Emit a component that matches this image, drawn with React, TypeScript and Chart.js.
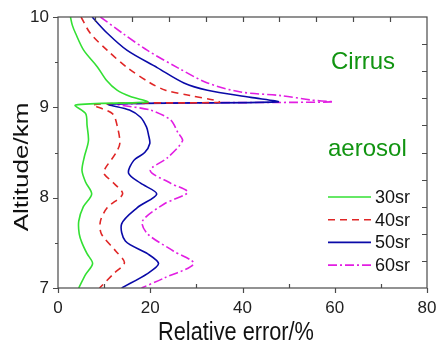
import React, { useEffect, useRef } from "react";
import { Chart, registerables } from "chart.js";
Chart.register(...registerables);

const FONT = "'Liberation Sans', Arial, Helvetica, sans-serif";

const seriesLabels = ["30sr", "40sr", "50sr", "60sr"];
const seriesColors = ["#33e033", "#e02626", "#0a0aa8", "#e21ee2"];
const seriesDashes: number[][] = [[], [7, 5], [], [9, 3, 2, 3]];

const alt30 = [10, 9.91, 9.82, 9.63, 9.45, 9.3, 9.19, 9.12, 9.06, 9.025, 8.93, 8.8, 8.63, 8.45, 8.3, 8.17, 8.04, 7.9, 7.74, 7.6, 7.5, 7.38, 7.27, 7.15, 7.0];
const err30 = [2.7, 3.1, 3.8, 5.6, 8.5, 10.5, 12.8, 15.7, 19.4, 3.8, 6.0, 6.3, 6.6, 5.7, 5.2, 6.0, 7.3, 5.5, 4.5, 4.6, 5.2, 6.3, 7.5, 6.0, 4.5];

const alt40 = [10, 9.82, 9.63, 9.44, 9.27, 9.19, 9.13, 9.08, 9.055, 9.03, 8.93, 8.78, 8.6, 8.49, 8.33, 8.27, 8.16, 8.04, 7.89, 7.74, 7.6, 7.41, 7.28, 7.16, 7.0];
const err40 = [5.0, 7.0, 10.7, 15, 20, 23.3, 28.7, 33.8, 35, 7.7, 11.8, 12.9, 13.4, 12.5, 10.3, 9.9, 12.1, 14.0, 10.7, 9.2, 9.4, 12.5, 14.4, 12.1, 9.0];

const alt50 = [10, 9.82, 9.63, 9.44, 9.27, 9.19, 9.11, 9.06, 9.035, 8.97, 8.89, 8.78, 8.7, 8.6, 8.5, 8.41, 8.27, 8.16, 8.04, 7.89, 7.71, 7.52, 7.38, 7.27, 7.16, 7.0];
const err50 = [7.4, 10.7, 15, 21.5, 27.3, 32.4, 41.8, 47.6, 11, 15.5, 17.9, 19.2, 19.6, 19.9, 18.8, 16.4, 15.3, 17.9, 21.4, 17.2, 13.8, 14.6, 19.4, 21.8, 19.4, 13.8];

const alt60 = [10, 9.82, 9.63, 9.44, 9.27, 9.17, 9.13, 9.08, 9.06, 9.035, 8.97, 8.86, 8.72, 8.63, 8.44, 8.3, 8.16, 8.06, 7.93, 7.74, 7.6, 7.41, 7.27, 7.11, 7.0];
const err60 = [9.2, 14, 19.4, 25.9, 32.4, 39.6, 48.3, 55, 59.5, 13, 20, 24.4, 26, 27, 23.7, 20, 24.4, 28.1, 23, 18.3, 19.4, 25, 29.4, 23, 18.1];

const seriesAlt = [alt30, alt40, alt50, alt60];
const seriesErr = [err30, err40, err50, err60];

const xTickValues = [0, 20, 40, 60, 80];
const yTickValues = [7, 8, 9, 10];
const xTitle = "Relative error/%";
const yTitle = "Altitude/km";
const noteTop = "Cirrus";
const noteBottom = "aerosol";

const decorPlugin = {
  id: "decor",
  afterDraw(chart: any) {
    const { ctx, chartArea: a, scales } = chart;
    const xs = scales.x;
    const ys = scales.y;
    ctx.save();
    ctx.strokeStyle = "#4a4a4a";
    ctx.lineWidth = 1.2;
    ctx.strokeRect(a.left, a.top, a.right - a.left, a.bottom - a.top);
    ctx.beginPath();
    for (let v = 0; v <= 80; v += 10) {
      const px = Math.round(xs.getPixelForValue(v)) + 0.5;
      if (v % 20 === 0) {
        ctx.moveTo(px, a.bottom);
        ctx.lineTo(px, a.bottom + 5);
      } else {
        ctx.moveTo(px, a.bottom);
        ctx.lineTo(px, a.bottom - 4);
      }
    }
    for (let v = 7; v <= 10.001; v += 0.5) {
      const py = Math.round(ys.getPixelForValue(v)) + 0.5;
      const major = Math.abs(v - Math.round(v)) < 1e-6;
      ctx.moveTo(a.left, py);
      ctx.lineTo(a.left - (major ? 5 : 3), py);
    }
    for (let i = 1; i < 10; i++) {
      const px = Math.round(xs.getPixelForValue(i * 8)) + 0.5;
      ctx.moveTo(px, a.top);
      ctx.lineTo(px, a.top + 5);
    }
    for (let i = 1; i < 10; i++) {
      const py = Math.round(ys.getPixelForValue(7 + i * 0.3)) + 0.5;
      ctx.moveTo(a.right, py);
      ctx.lineTo(a.right - 5, py);
    }
    ctx.stroke();

    ctx.fillStyle = "#119411";
    ctx.font = `24px ${FONT}`;
    ctx.textBaseline = "middle";
    ctx.textAlign = "left";
    ctx.fillText(noteTop, 331, 62);
    ctx.fillText(noteBottom, 328, 149);

    const ds = chart.data.datasets;
    ctx.font = `18px ${FONT}`;
    for (let i = 0; i < ds.length; i++) {
      const ly = 197 + i * 22.7;
      ctx.beginPath();
      ctx.strokeStyle = ds[i].borderColor;
      ctx.lineWidth = 1.6;
      ctx.setLineDash(ds[i].borderDash || []);
      ctx.moveTo(328, ly);
      ctx.lineTo(371, ly);
      ctx.stroke();
      ctx.setLineDash([]);
      ctx.fillStyle = "#111";
      ctx.fillText(ds[i].label, 375, ly + 1);
    }

    ctx.fillStyle = "#111";
    ctx.textAlign = "center";
    ctx.textBaseline = "alphabetic";
    ctx.save();
    ctx.translate(236, 340);
    ctx.scale(0.87, 1);
    ctx.font = `25px ${FONT}`;
    ctx.fillText(xTitle, 0, 0);
    ctx.restore();

    ctx.save();
    ctx.translate(28, 167);
    ctx.rotate(-Math.PI / 2);
    ctx.scale(1, 0.81);
    ctx.font = `26px ${FONT}`;
    ctx.fillText(yTitle, 0, 0);
    ctx.restore();
    ctx.restore();
  },
};

export default function App() {
  const ref = useRef<HTMLCanvasElement | null>(null);
  useEffect(() => {
    if (!ref.current) return;
    const datasets = seriesLabels.map((label, i) => ({
      label,
      data: seriesAlt[i].map((y, j) => ({ x: seriesErr[i][j], y })),
      borderColor: seriesColors[i],
      backgroundColor: seriesColors[i],
      borderDash: seriesDashes[i],
      borderWidth: 1.6,
      showLine: true,
      pointRadius: 0,
      tension: 0.3,
      fill: false,
    }));
    const chart = new Chart(ref.current, {
      type: "scatter",
      data: { datasets },
      options: {
        animation: false,
        responsive: false,
        layout: { padding: { top: 17, right: 9, left: 0, bottom: 0 } },
        plugins: { legend: { display: false }, tooltip: { enabled: false } },
        scales: {
          x: {
            type: "linear",
            min: 0,
            max: 80,
            afterBuildTicks: (s: any) => {
              s.ticks = xTickValues.map((v) => ({ value: v }));
            },
            afterFit: (s: any) => {
              s.height = 56;
              s.paddingRight = 0;
              s.paddingLeft = 0;
            },
            grid: { display: false, drawTicks: false },
            border: { display: false },
            ticks: { font: { family: FONT, size: 17 }, color: "#222", padding: 10, maxRotation: 0 },
          },
          y: {
            type: "linear",
            min: 7,
            max: 10,
            afterBuildTicks: (s: any) => {
              s.ticks = yTickValues.map((v) => ({ value: v }));
            },
            afterFit: (s: any) => {
              s.width = 58;
              s.paddingTop = 0;
              s.paddingBottom = 0;
            },
            grid: { display: false, drawTicks: false },
            border: { display: false },
            ticks: { font: { family: FONT, size: 17 }, color: "#222", padding: 9 },
          },
        },
      },
      plugins: [decorPlugin],
    });
    return () => chart.destroy();
  }, []);
  return (
    <div style={{ position: "absolute", left: 0, top: 0, width: 436, height: 344, background: "#fff" }}>
      <canvas ref={ref} width={436} height={344} />
    </div>
  );
}
